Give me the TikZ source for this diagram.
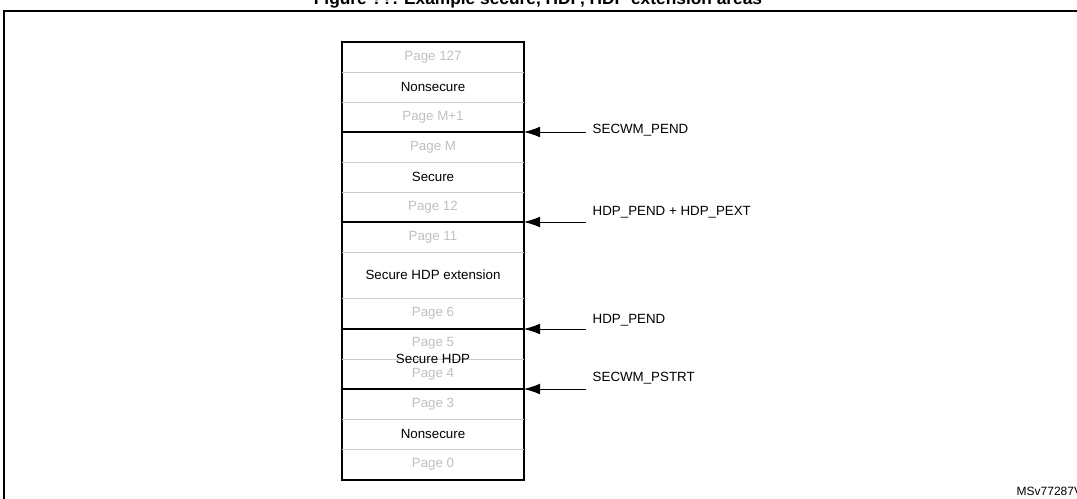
\documentclass[tikz,border=0pt]{standalone}
\usepackage{fontspec}
\setmainfont{Liberation Sans}
\usetikzlibrary{arrows.meta,calc}
\begin{document}
\begin{tikzpicture}[x=0.75pt,y=-0.75pt,
  pg/.style={text=black!25,font=\fontsize{10}{12}\selectfont},
  lb/.style={font=\fontsize{10}{12}\selectfont},
  sep/.style={draw=black!20,line width=0.6pt},
  bnd/.style={draw=black,line width=1pt},
  arr/.style={-{Latex[length=12pt,width=8pt]},line width=0.6pt}]
\useasboundingbox (0,0) rectangle (1077,499);
\clip (0,0) rectangle (1077,499);
\node[font=\bfseries\fontsize{13}{15}\selectfont] (title) at (538,0) {Figure ??. Example secure, HDP, HDP extension areas};
\draw[line width=1pt] (4,499) -- (4,11) -- (1080,11);
\draw[line width=0.8pt] (342,42) rectangle (524,480);
\foreach \y in {72,102,162,192,252,298,359,419,449} \draw[sep] (342,\y) -- (524,\y);
\foreach \y in {132,222,329,389} \draw[bnd] (342,\y) -- (524,\y);
\node[pg] (p127) at (433,57) {Page 127};
\node[lb] (ns1) at (433,87) {Nonsecure};
\node[pg] (pm1) at (433,117) {Page M+1};
\node[pg] (pm) at (433,147) {Page M};
\node[lb] (sec) at (433,177) {Secure};
\node[pg] (p12) at (433,207) {Page 12};
\node[pg] (p11) at (433,237) {Page 11};
\node[lb] (ext) at (433,275) {Secure HDP extension};
\node[pg] (p6) at (433,313) {Page 6};
\node[pg] (p5) at (433,343) {Page 5};
\node[pg] (p4) at (433,374) {Page 4};
\node[lb] (hdp) at (433,359) {Secure HDP};
\node[pg] (p3) at (433,404) {Page 3};
\node[lb] (ns2) at (433,434) {Nonsecure};
\node[pg] (p0) at (433,464) {Page 0};
\coordinate (a1) at (524,132); \coordinate (a2) at (524,222);
\coordinate (a3) at (524,329); \coordinate (a4) at (524,389);
\node[lb,anchor=west] (l1) at (588,130) {SECWM\_PEND};
\node[lb,anchor=west] (l2) at (588,212) {HDP\_PEND + HDP\_PEXT};
\node[lb,anchor=west] (l3) at (588,320) {HDP\_PEND};
\node[lb,anchor=west] (l4) at (588,378) {SECWM\_PSTRT};
\foreach \i in {1,2,3,4} \draw[arr] ($(a\i)+(62,0)$) -- (a\i);
\node[font=\fontsize{9}{10}\selectfont,anchor=west] (id) at (1012,491) {MSv77287V1};
\end{tikzpicture}
\end{document}
